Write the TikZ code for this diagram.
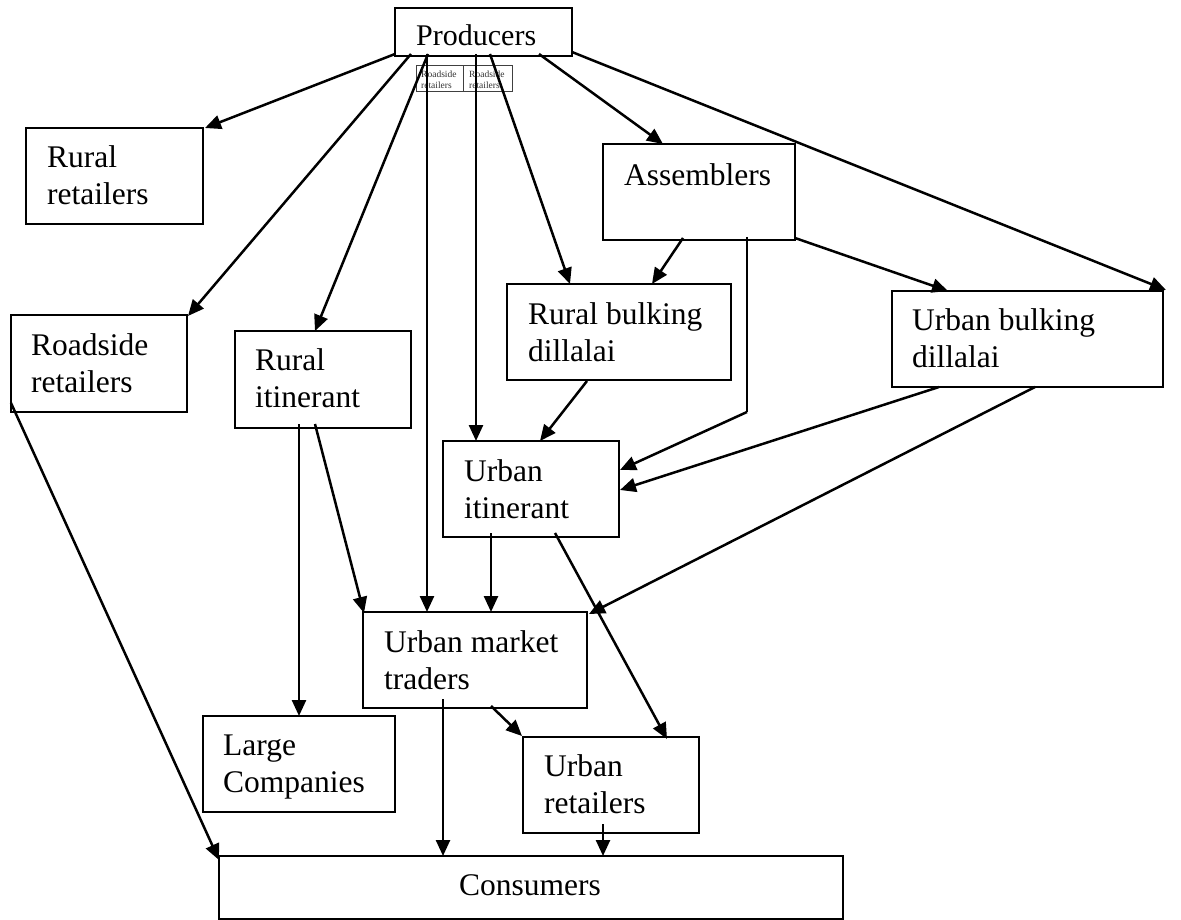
\documentclass[tikz,border=0pt]{standalone}
\usepackage{fontspec}
\setmainfont{Liberation Serif}
\usetikzlibrary{arrows.meta}
\begin{document}
\begin{tikzpicture}[x=1pt,y=-1pt,
  box/.style={draw=black, line width=2.6pt, inner sep=0pt, outer sep=0pt, anchor=north west, fill=none},
  smallbox/.style={draw=black!75, line width=1pt, inner sep=0pt, outer sep=0pt, anchor=north west},
  txt/.style={inner sep=0pt, anchor=north west, align=left, font=\fontsize{31.5}{37.5}\selectfont},
  tinytxt/.style={inner sep=0pt, anchor=north west, align=left, text=black!80, font=\fontsize{9.5}{11}\selectfont},
  arr/.style={line width=2.5pt, -{Triangle[length=16pt,width=14pt]}},
  ln/.style={line width=2.5pt}
]
\useasboundingbox (0,0) rectangle (1181,920);
\fill[white] (0,0) rectangle (1181,920);

% small boxes (drawn first, lines pass over them)
\node[smallbox, minimum width=47, minimum height=26] (sb1) at (416,66) {};
\node[smallbox, minimum width=49, minimum height=26] (sb2) at (463,66) {};
\node[tinytxt] (sb1t) at ([shift={(5,4)}]sb1.north west) {\strut Roadside\\retailers};
\node[tinytxt] (sb2t) at ([shift={(6,4)}]sb2.north west) {\strut Roadside\\retailers};

% boxes
\node[box, minimum width=177, minimum height=48] (prod) at (395,8) {};
\node[box, minimum width=177, minimum height=96] (rr) at (26,128) {};
\node[box, minimum width=176, minimum height=97] (rsr) at (11,315) {};
\node[box, minimum width=176, minimum height=97] (ri) at (235,331) {};
\node[box, minimum width=192, minimum height=96] (asm) at (603,144) {};
\node[box, minimum width=224, minimum height=96] (rbd) at (507,284) {};
\node[box, minimum width=271, minimum height=96] (ubd) at (892,291) {};
\node[box, minimum width=176, minimum height=96] (ui) at (443,441) {};
\node[box, minimum width=224, minimum height=96] (umt) at (363,612) {};
\node[box, minimum width=192, minimum height=96] (lc) at (203,716) {};
\node[box, minimum width=176, minimum height=96] (ur) at (523,737) {};
\node[box, minimum width=624, minimum height=63] (con) at (219,856) {};

% texts (first baseline = top + 26.25)
\node[txt, font=\fontsize{30}{36}\selectfont] (prodt) at (416,20) {\strut Producers};
\node[txt] (rrt) at (47,140.75) {\strut Rural\\retailers};
\node[txt] (rsrt) at (31,328.75) {\strut Roadside\\retailers};
\node[txt] (rit) at (255,343.75) {\strut Rural\\itinerant};
\node[txt] (asmt) at (624,158.75) {\strut Assemblers};
\node[txt] (rbdt) at (528,297.75) {\strut Rural bulking\\dillalai};
\node[txt] (ubdt) at (912,303.75) {\strut Urban bulking\\dillalai};
\node[txt] (uit) at (464,454.75) {\strut Urban\\itinerant};
\node[txt] (umtt) at (384,625.75) {\strut Urban market\\traders};
\node[txt] (lct) at (223,728.75) {\strut Large\\Companies};
\node[txt] (urt) at (544,749.75) {\strut Urban\\retailers};
\node[txt] (cont) at (459,868.75) {\strut Consumers};

% connectors from Producers
\draw[arr] ([shift={(0,-2)}]prod.south west) -- ([shift={(2,0)}]rr.north east);
\draw[arr] ([shift={(16,-2)}]prod.south west) -- ([shift={(1,1)}]rsr.north east);
\draw[arr] ([shift={(33,-2)}]prod.south west) -- ([shift={(80,0)}]ri.north west);
\draw[arr] ([shift={(32,-2)}]prod.south west) -- ([shift={(64,0)}]umt.north west);
\draw[arr] ([shift={(81,-2)}]prod.south west) -- ([shift={(33,0)}]ui.north west);
\draw[arr] ([shift={(95,-2)}]prod.south west) -- ([shift={(63,0)}]rbd.north west);
\draw[arr] ([shift={(144,-2)}]prod.south west) -- ([shift={(60,0)}]asm.north west);
\draw[arr] ([shift={(0,-4)}]prod.south east) -- ([shift={(3,-1)}]ubd.north east);

% from Assemblers
\draw[arr] ([shift={(80,-2)}]asm.south west) -- ([shift={(145,0)}]rbd.north west);
\coordinate (bend) at (747,412);
\draw[ln] ([shift={(144,-3)}]asm.south west) -- (bend);
\draw[arr] (bend) -- ([shift={(1,29)}]ui.north east);
\draw[arr] ([shift={(0,-2)}]asm.south east) -- ([shift={(56,0)}]ubd.north west);

% from bulking dillalai
\draw[arr] ([shift={(80,1)}]rbd.south west) -- ([shift={(97,0)}]ui.north west);
\draw[arr] ([shift={(47,0)}]ubd.south west) -- ([shift={(1,49)}]ui.north east);
\draw[arr] ([shift={(143,0)}]ubd.south west) -- ([shift={(2,2)}]umt.north east);

% lower part
\draw[arr] ([shift={(0,-9)}]rsr.south west) -- ([shift={(0,4)}]con.north west);
\draw[arr] ([shift={(64,-4)}]ri.south west) -- ([shift={(96,0)}]lc.north west);
\draw[arr] ([shift={(80,-4)}]ri.south west) -- ([shift={(1,1)}]umt.north west);
\draw[arr] ([shift={(48,-4)}]ui.south west) -- ([shift={(128,0)}]umt.north west);
\draw[arr] ([shift={(112,-4)}]ui.south west) -- ([shift={(144,2)}]ur.north west);
\draw[arr] ([shift={(128,-2)}]umt.south west) -- ([shift={(-1,-1)}]ur.north west);
\draw[arr] ([shift={(80,-9)}]umt.south west) -- ([shift={(224,0)}]con.north west);
\draw[arr] ([shift={(80,-9)}]ur.south west) -- ([shift={(384,0)}]con.north west);
\end{tikzpicture}
\end{document}
